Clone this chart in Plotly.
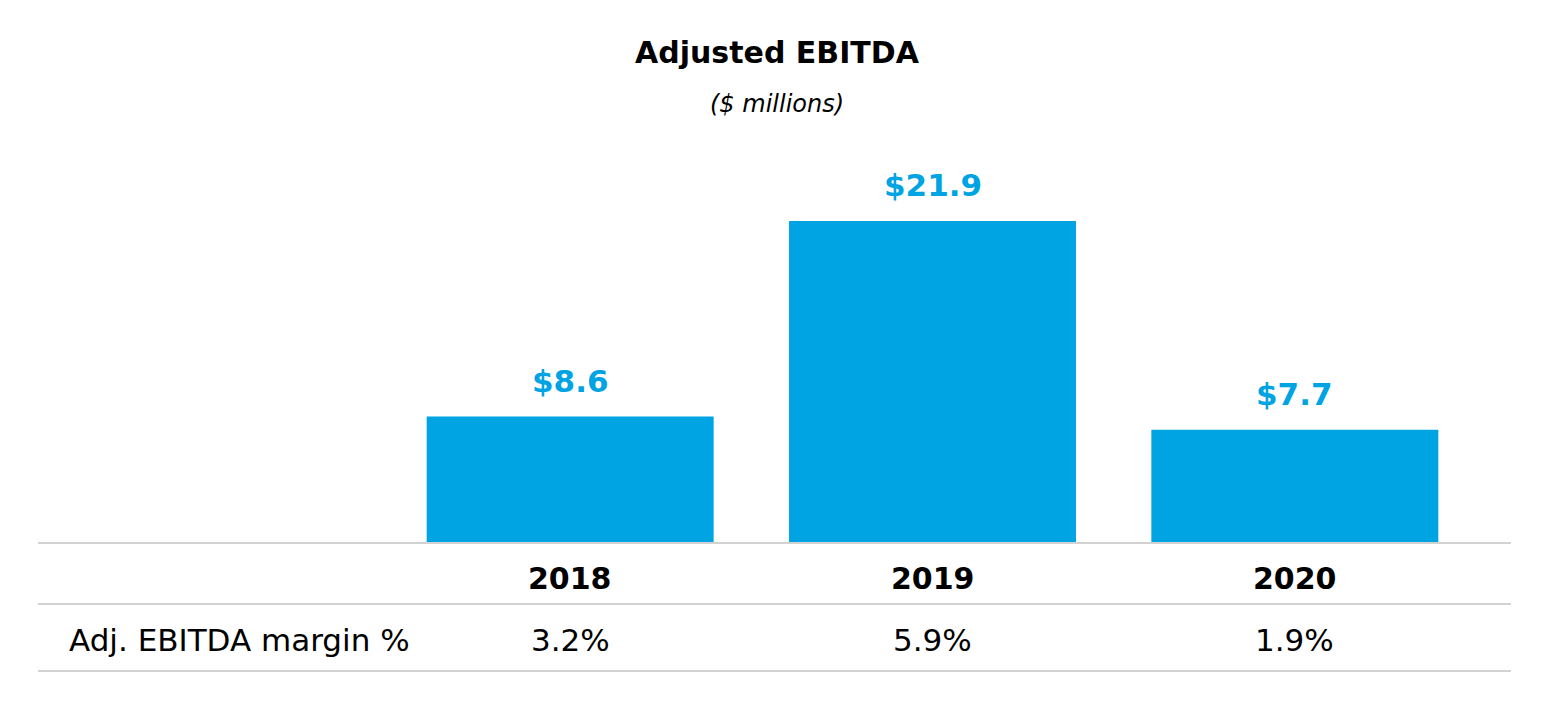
import plotly.graph_objects as go

years = ["2018", "2019", "2020"]
ebitda = [8.6, 21.9, 7.7]
value_labels = ["$8.6", "$21.9", "$7.7"]
margins = ["3.2%", "5.9%", "1.9%"]
row_label = "Adj. EBITDA margin %"
title = "Adjusted EBITDA"
subtitle = "($ millions)"

OFF = 8  # page body margin
W, H = 1554 - OFF, 709 - OFF
BLUE = "#00A4E3"
GRID = "#D2D2D2"
FONT = "DejaVu Sans"

def py(y):
    return (H - (y - OFF)) / H

def pxx(x):
    return (x - OFF) / W

fig = go.Figure()
fig.add_trace(go.Bar(x=years, y=ebitda, marker=dict(color=BLUE, line=dict(width=0)),
                     hoverinfo="skip"))

annotations = []
for i, (v, lab) in enumerate(zip(ebitda, value_labels)):
    annotations.append(dict(x=i, y=v, xref="x", yref="y", text="<b>%s</b>" % lab,
                            showarrow=False, yanchor="bottom", yshift=16,
                            font=dict(family=FONT, size=31, color=BLUE)))
for i, (yr, m) in enumerate(zip(years, margins)):
    annotations.append(dict(x=i, y=py(578), xref="x", yref="paper", text="<b>%s</b>" % yr,
                            showarrow=False, yanchor="middle",
                            font=dict(family=FONT, size=30, color="#000000")))
    annotations.append(dict(x=i, y=py(640), xref="x", yref="paper", text=m,
                            showarrow=False, yanchor="middle",
                            font=dict(family=FONT, size=31, color="#000000")))
annotations.append(dict(x=pxx(67), y=py(640), xref="paper", yref="paper", text=row_label,
                        showarrow=False, xanchor="left", yanchor="middle",
                        font=dict(family=FONT, size=31, color="#000000")))
annotations.append(dict(x=pxx(777), y=py(52), xref="paper", yref="paper", text="<b>%s</b>" % title,
                        showarrow=False, yanchor="middle",
                        font=dict(family=FONT, size=30, color="#000000")))
annotations.append(dict(x=pxx(777), y=py(104), xref="paper", yref="paper", text="<i>%s</i>" % subtitle,
                        showarrow=False, yanchor="middle",
                        font=dict(family=FONT, size=24, color="#000000")))

shapes = []
for yy in (543, 604, 671):
    shapes.append(dict(type="line", xref="paper", yref="paper", x0=pxx(38), x1=pxx(1511),
                       y0=py(yy), y1=py(yy), line=dict(color=GRID, width=2)))

top_px = 150
fig.update_layout(
    width=W, height=H,
    margin=dict(l=0, r=0, t=0, b=0),
    paper_bgcolor="white", plot_bgcolor="white",
    showlegend=False,
    bargap=0.208,
    xaxis=dict(type="category", range=[-0.5, 2.5], domain=[pxx(389), pxx(1476)],
               showticklabels=False, showgrid=False, zeroline=False, showline=False,
               ticks="", fixedrange=True),
    yaxis=dict(domain=[py(543), py(top_px)], range=[0, (543 - top_px) / 14.7],
               showticklabels=False, showgrid=False, zeroline=False, showline=False,
               fixedrange=True),
    annotations=annotations,
    shapes=shapes,
    font=dict(family=FONT),
)

fig.write_html("out.html")
